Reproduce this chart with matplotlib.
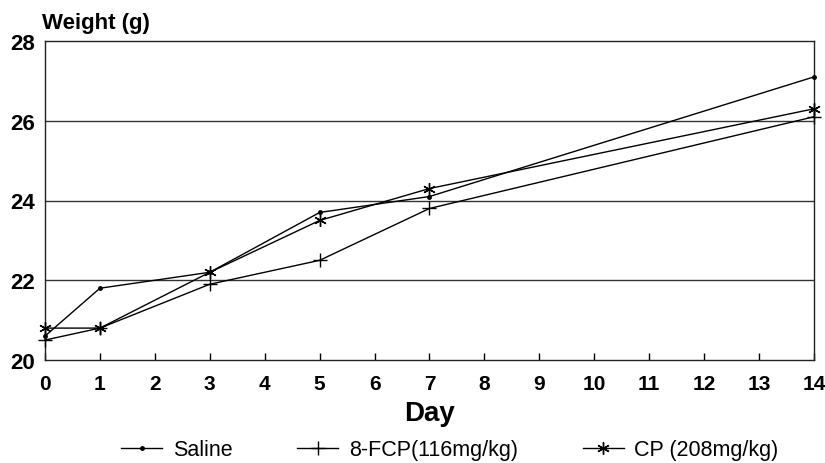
import matplotlib
matplotlib.use("Agg")
import matplotlib.pyplot as plt

days = [0, 1, 3, 5, 7, 14]
saline = [20.6, 21.8, 22.2, 23.7, 24.1, 27.1]
fcp = [20.5, 20.8, 21.9, 22.5, 23.8, 26.1]
cp = [20.8, 20.8, 22.2, 23.5, 24.3, 26.3]
xticks = list(range(0, 15))
yticks = [20, 22, 24, 26, 28]
labels = ["Saline", "8-FCP(116mg/kg)", "CP (208mg/kg)"]

plt.rcParams['font.family'] = ['Liberation Sans', 'DejaVu Sans']

W, H = 825, 464
fig = plt.figure(figsize=(W / 100, H / 100), dpi=100)
ax = fig.add_axes([45 / W, 1 - 361 / H, (814 - 45) / W, (361 - 42) / H])

for g in [22, 24, 26]:
    ax.axhline(g, color='#333333', lw=1.0, zorder=1)

ax.plot(days, saline, color='black', lw=1.0, marker='o', ms=2.5, label=labels[0], zorder=3, clip_on=False)
ax.plot(days, fcp, color='black', lw=1.0, marker='+', ms=10, mew=1.0, label=labels[1], zorder=3, clip_on=False)
ax.plot(days, cp, color='black', lw=1.0, marker=(6, 2, 0), ms=9, mew=1.0, label=labels[2], zorder=3, clip_on=False)

ax.set_xlim(0, 14)
ax.set_ylim(20, 28)
ax.set_xticks(xticks)
ax.set_xticklabels([str(t) for t in xticks], fontsize=15, fontweight='bold')
ax.set_yticks(yticks)
ax.set_yticklabels([str(t) for t in yticks], fontsize=16, fontweight='bold')
ax.tick_params(axis='x', direction='in', length=5, width=1, pad=10)
ax.tick_params(axis='y', length=0, pad=7)
for s in ax.spines.values():
    s.set_linewidth(1.0)
    s.set_color('#222222')

ax.set_xlabel("Day", fontsize=20, fontweight='bold', labelpad=5)
fig.text(42 / W, 1 - 23 / H, "Weight (g)", fontsize=16, fontweight='bold', va='center', ha='left')

fig.legend(loc='center', bbox_to_anchor=(450 / W, 1 - 451 / H), ncol=3, frameon=False,
           fontsize=15.5, handlelength=1.9, columnspacing=3.0, handletextpad=0.5)

fig.savefig("out.png", dpi=100)
